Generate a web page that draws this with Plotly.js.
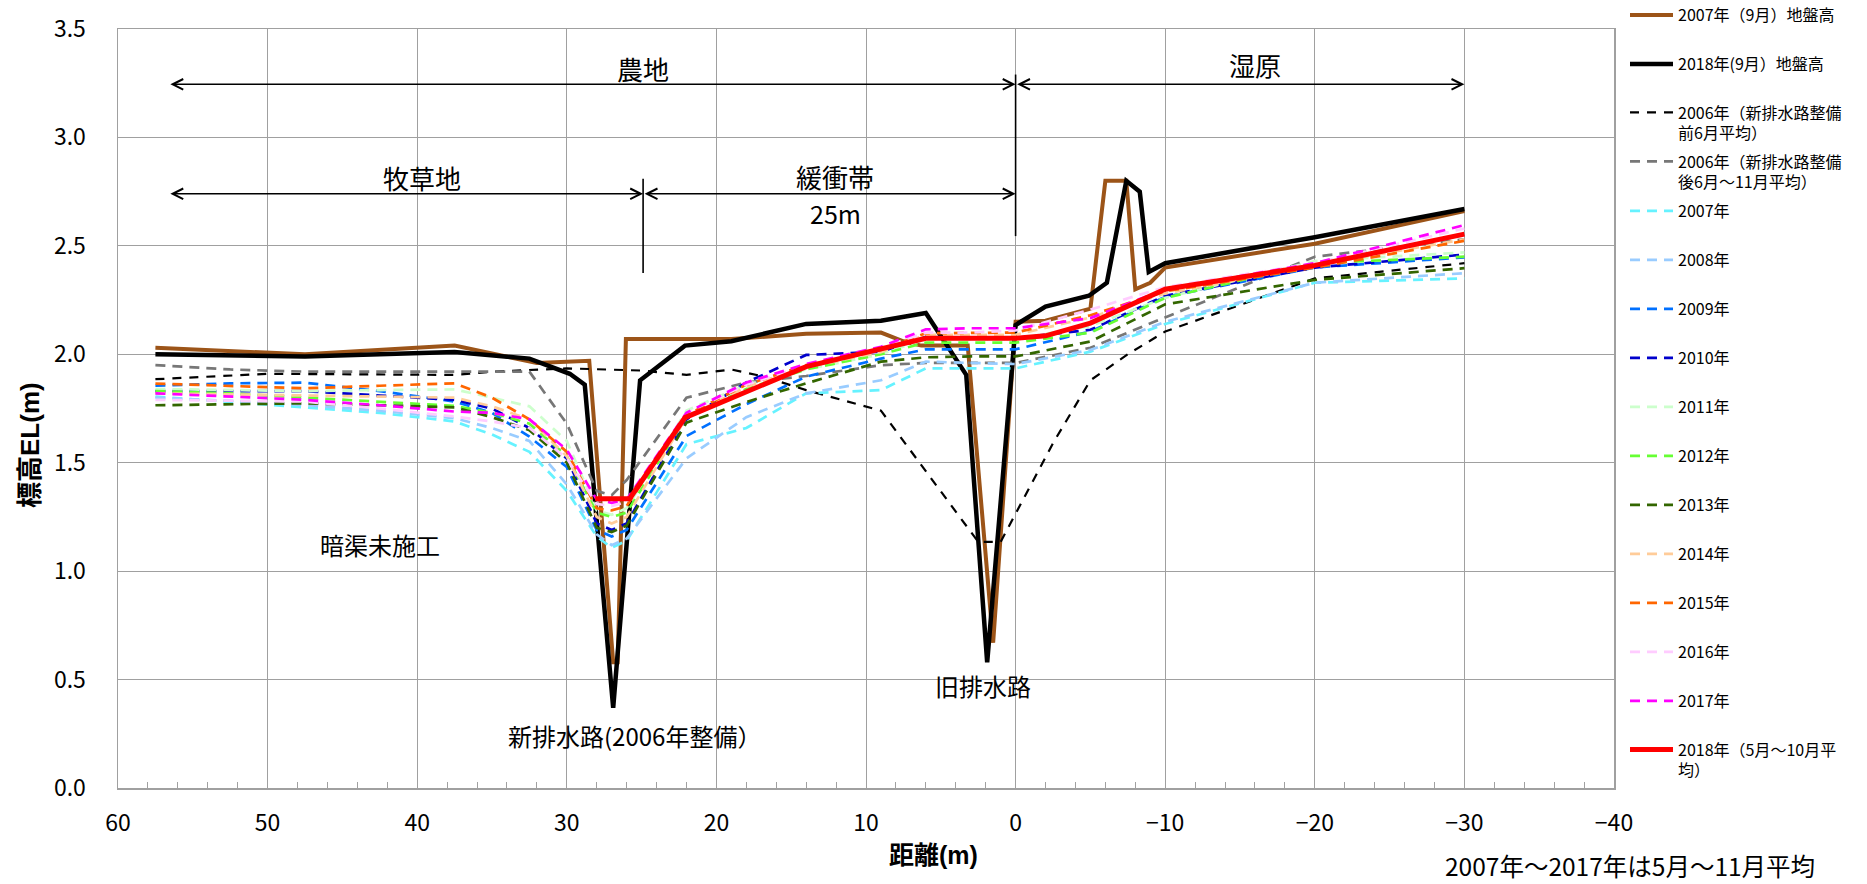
<!DOCTYPE html>
<html><head><meta charset="utf-8">
<script src="https://cdn.plot.ly/plotly-3.0.1.min.js"></script>
<style>html,body{margin:0;padding:0;background:#fff}#chart{width:1867px;height:884px}</style>
</head><body><div id="chart"></div>
<script>
// ---------- data ----------
const D = [57.5, 52.5, 47.5, 42.5, 37.5, 35, 32.5, 30, 28, 27, 26, 22, 18, 14, 9, 6, 3, 0, -5, -10, -20, -30];

const ground2007X = [57.5, 47.5, 37.5, 32, 28.5, 26.9, 26.6, 26.05, 19, 14, 9, 7.5, 6.3, 3.2, 1.5, 0, -2, -5, -6, -7.4, -8, -9, -10, -20, -30];
const ground2007Y = [2.03, 2.00, 2.04, 1.96, 1.97, 0.58, 0.58, 2.07, 2.07, 2.095, 2.10, 2.06, 2.04, 2.04, 0.67, 2.15, 2.155, 2.21, 2.80, 2.80, 2.30, 2.33, 2.40, 2.51, 2.66];

const ground2018X = [57.5, 47.5, 37.5, 32.5, 29.8, 28.8, 26.9, 25.1, 22.1, 19, 14, 9, 6, 3.3, 1.9, 0, -2, -4.9, -6.1, -7.4, -8.3, -8.9, -10, -20, -30];
const ground2018Y = [2.00, 1.99, 2.01, 1.98, 1.91, 1.86, 0.37, 1.88, 2.04, 2.06, 2.14, 2.155, 2.19, 1.905, 0.58, 2.135, 2.22, 2.27, 2.33, 2.80, 2.75, 2.38, 2.42, 2.54, 2.67];

const pre2006X = [57.5, 50, 37.5, 35, 30, 25, 22, 19, 17, 14, 9, 2.5, 1, -2.5, -5, -7.5, -10, -20, -30];
const pre2006Y = [1.885, 1.91, 1.905, 1.92, 1.935, 1.925, 1.905, 1.93, 1.90, 1.835, 1.74, 1.135, 1.135, 1.59, 1.88, 2.0, 2.105, 2.35, 2.42];

const post2006 = [1.95, 1.93, 1.92, 1.92, 1.92, 1.92, 1.92, 1.68, 1.37, 1.35, 1.42, 1.80, 1.87, 1.90, 1.95, 1.96, 1.96, 1.96, 2.03, 2.17, 2.45, 2.53];
const y2007 = [1.805, 1.78, 1.755, 1.73, 1.69, 1.63, 1.55, 1.37, 1.16, 1.108, 1.14, 1.585, 1.66, 1.82, 1.835, 1.935, 1.935, 1.935, 2.012, 2.14, 2.33, 2.35];
const y2008 = [1.80, 1.785, 1.766, 1.74, 1.705, 1.66, 1.60, 1.40, 1.17, 1.12, 1.15, 1.52, 1.71, 1.82, 1.88, 1.966, 1.96, 1.955, 2.02, 2.15, 2.33, 2.374];
const y2009 = [1.855, 1.866, 1.869, 1.83, 1.782, 1.73, 1.62, 1.48, 1.19, 1.16, 1.19, 1.623, 1.77, 1.897, 1.98, 2.023, 2.023, 2.023, 2.105, 2.265, 2.40, 2.447];
const y2010 = [1.83, 1.83, 1.83, 1.81, 1.79, 1.75, 1.66, 1.52, 1.22, 1.19, 1.22, 1.70, 1.87, 1.997, 2.012, 2.08, 2.075, 2.075, 2.113, 2.27, 2.40, 2.46];
const y2011 = [1.84, 1.835, 1.83, 1.835, 1.838, 1.80, 1.76, 1.60, 1.28, 1.26, 1.29, 1.74, 1.86, 1.93, 2.0, 2.07, 2.07, 2.07, 2.13, 2.26, 2.43, 2.47];
const y2012 = [1.83, 1.82, 1.80, 1.78, 1.762, 1.73, 1.68, 1.53, 1.27, 1.25, 1.27, 1.71, 1.84, 1.93, 2.0, 2.054, 2.054, 2.054, 2.10, 2.26, 2.42, 2.45];
const y2013 = [1.765, 1.77, 1.774, 1.765, 1.755, 1.71, 1.65, 1.50, 1.20, 1.18, 1.21, 1.685, 1.78, 1.866, 1.966, 1.986, 1.99, 1.99, 2.059, 2.23, 2.343, 2.397];
const y2014 = [1.82, 1.815, 1.812, 1.805, 1.80, 1.76, 1.70, 1.53, 1.25, 1.22, 1.25, 1.71, 1.85, 1.94, 2.01, 2.09, 2.09, 2.09, 2.17, 2.28, 2.41, 2.53];
const y2015 = [1.865, 1.855, 1.843, 1.855, 1.866, 1.80, 1.70, 1.55, 1.29, 1.28, 1.30, 1.72, 1.86, 1.95, 2.02, 2.097, 2.10, 2.10, 2.18, 2.29, 2.40, 2.523];
const y2016 = [1.79, 1.785, 1.782, 1.75, 1.713, 1.69, 1.66, 1.52, 1.31, 1.30, 1.32, 1.73, 1.86, 1.95, 2.03, 2.10, 2.10, 2.11, 2.206, 2.31, 2.42, 2.58];
const y2017 = [1.82, 1.805, 1.79, 1.765, 1.736, 1.73, 1.70, 1.56, 1.33, 1.315, 1.33, 1.73, 1.87, 1.955, 2.035, 2.115, 2.12, 2.12, 2.167, 2.30, 2.42, 2.596];

const avg2018X = [28.1, 25.8, 22.1, 14, 6, 0, -2, -5, -10, -20, -30];
const avg2018Y = [1.334, 1.334, 1.708, 1.943, 2.074, 2.074, 2.085, 2.144, 2.30, 2.41, 2.554];

const seriesNames = [
  '2007年（9月）地盤高',
  '2018年(9月）地盤高',
  '2006年（新排水路整備<br>前6月平均）',
  '2006年（新排水路整備<br>後6月～11月平均）',
  '2007年','2008年','2009年','2010年','2011年','2012年','2013年','2014年','2015年','2016年','2017年',
  '2018年（5月～10月平<br>均）'
];
const xTickVals = [60, 50, 40, 30, 20, 10, 0, -10, -20, -30, -40];

// ---------- styling ----------
const FONT = "'Liberation Sans Narrow', 'Noto Sans CJK JP', sans-serif";
const BOLDFONT = "'Liberation Sans', 'Noto Sans CJK JP', sans-serif";
const W = 1867, H = 884, ML = 118, MR = 253, MT = 29, MB = 96;
const PW = W - ML - MR, PH = H - MT - MB;
const px2x = px => (px - ML) / PW;
const py2y = py => (H - MB - py) / PH;

const DASH = '10px,7px';
const specs = [
  {x: ground2007X, y: ground2007Y, color: '#9C5418', width: 4, dash: 'solid'},
  {x: ground2018X, y: ground2018Y, color: '#000000', width: 4.5, dash: 'solid'},
  {x: pre2006X, y: pre2006Y, color: '#000000', width: 2.2, dash: '9px,8px'},
  {x: D, y: post2006, color: '#777777', width: 2.7, dash: DASH},
  {x: D, y: y2007, color: '#66F2FF', width: 2.7, dash: DASH},
  {x: D, y: y2008, color: '#99CCFF', width: 2.7, dash: DASH},
  {x: D, y: y2009, color: '#0070FF', width: 2.7, dash: DASH},
  {x: D, y: y2010, color: '#0000CC', width: 2.7, dash: DASH},
  {x: D, y: y2011, color: '#CCFFCC', width: 2.7, dash: DASH},
  {x: D, y: y2012, color: '#66FF33', width: 2.7, dash: DASH},
  {x: D, y: y2013, color: '#336600', width: 2.7, dash: DASH},
  {x: D, y: y2014, color: '#FFCC99', width: 2.7, dash: DASH},
  {x: D, y: y2015, color: '#FF6600', width: 2.7, dash: DASH},
  {x: D, y: y2016, color: '#FFCCFF', width: 2.7, dash: DASH},
  {x: D, y: y2017, color: '#FF00FF', width: 2.7, dash: DASH},
  {x: avg2018X, y: avg2018Y, color: '#FF0000', width: 5, dash: 'solid'}
];

const legendCenters = seriesNames.map((n, i) => 15 + 49 * i);

const traces = specs.map((s, i) => ({
  type: 'scatter', mode: 'lines', name: seriesNames[i],
  x: s.x, y: s.y,
  line: {color: s.color, width: s.width, dash: s.dash},
  legend: i === 0 ? 'legend' : 'legend' + (i + 1),
  hoverinfo: 'skip'
}));

const layout = {
  width: W, height: H,
  margin: {l: ML, r: MR, t: MT, b: MB, autoexpand: false},
  paper_bgcolor: '#ffffff', plot_bgcolor: '#ffffff',
  font: {family: FONT, color: '#000', size: 16},
  showlegend: true,
  xaxis: {
    range: [60, -40], autorange: false, tickvals: xTickVals,
    showgrid: true, gridcolor: '#A0A0A0', gridwidth: 1,
    showline: true, mirror: true, linecolor: '#A0A0A0', linewidth: 1.5,
    ticks: 'inside', ticklen: 6, tickcolor: '#A0A0A0',
    minor: {dtick: 2, ticks: 'inside', ticklen: 6, tickcolor: '#A0A0A0', showgrid: false},
    zeroline: false,
    tickfont: {size: 23, family: FONT, color: '#000'},
    ticklabelstandoff: 14
  },
  yaxis: {
    range: [0, 3.5], autorange: false, dtick: 0.5, tick0: 0, tickformat: '.1f',
    showgrid: true, gridcolor: '#A0A0A0', gridwidth: 1,
    showline: true, mirror: true, linecolor: '#A0A0A0', linewidth: 1.5,
    zeroline: false, ticks: '',
    tickfont: {size: 23, family: FONT, color: '#000'},
    ticklabelstandoff: 26
  },
  annotations: [],
  shapes: []
};

// legends: one per entry, so each item keeps the reference spacing
seriesNames.forEach((n, i) => {
  const key = i === 0 ? 'legend' : 'legend' + (i + 1);
  const twoLines = n.indexOf('<br>') >= 0;
  layout[key] = {
    x: px2x(1625), xanchor: 'left',
    y: py2y(legendCenters[i] + (twoLines ? 10 : 0)), yanchor: 'middle',
    bgcolor: 'rgba(0,0,0,0)', borderwidth: 0,
    font: {size: 16, family: FONT, color: '#000'},
    valign: 'top', itemwidth: 43, tracegroupgap: 0
  };
});

const A = layout.annotations;
function arrow(x0, x1, y) {
  A.push({xref: 'x', yref: 'y', axref: 'x', ayref: 'y', x: x1, y: y, ax: x0, ay: y,
    text: '', showarrow: true, arrowside: 'end+start', arrowhead: 5, startarrowhead: 5,
    arrowsize: 1.3, startarrowsize: 1.3, arrowwidth: 1.6, arrowcolor: '#000', standoff: 0, startstandoff: 0});
}
arrow(56.6, 0, 3.245);
arrow(0, -30, 3.245);
arrow(56.6, 24.9, 2.74);
arrow(24.9, 0, 2.74);
layout.shapes.push({type: 'line', xref: 'x', yref: 'y', x0: 24.9, x1: 24.9, y0: 2.375, y1: 2.81, line: {color: '#000', width: 1.6}});
layout.shapes.push({type: 'line', xref: 'x', yref: 'y', x0: 0, x1: 0, y0: 2.545, y1: 3.29, line: {color: '#000', width: 1.6}});

function label(text, x, y, size) {
  A.push({xref: 'x', yref: 'y', x: x, y: y, text: text, showarrow: false,
    font: {size: size, family: FONT, color: '#000'}, xanchor: 'center', yanchor: 'middle'});
}
label('農地', 24.9, 3.317, 26);
label('湿原', -16.0, 3.335, 26);
label('牧草地', 39.7, 2.816, 26);
label('緩衝帯', 12.05, 2.822, 26);
label('25m', 12.05, 2.651, 25);
label('暗渠未施工', 42.5, 1.124, 24);
label('新排水路(2006年整備）', 25.5, 0.243, 24);
label('旧排水路', 2.18, 0.471, 24);

// axis titles
A.push({xref: 'paper', yref: 'paper', x: px2x(30), y: py2y(445), text: '<b>標高EL(m)</b>', showarrow: false, textangle: -90,
  font: {size: 26, family: BOLDFONT, color: '#000'}, xanchor: 'center', yanchor: 'middle'});
A.push({xref: 'paper', yref: 'paper', x: px2x(934), y: py2y(855), text: '<b>距離(m)</b>', showarrow: false,
  font: {size: 25, family: BOLDFONT, color: '#000'}, xanchor: 'center', yanchor: 'middle'});
A.push({xref: 'paper', yref: 'paper', x: px2x(1630), y: py2y(865), text: '2007年～2017年は5月～11月平均', showarrow: false,
  font: {size: 24.5, family: FONT, color: '#000'}, xanchor: 'center', yanchor: 'middle'});

Plotly.newPlot('chart', traces, layout, {displayModeBar: false, staticPlot: true});
</script></body></html>
